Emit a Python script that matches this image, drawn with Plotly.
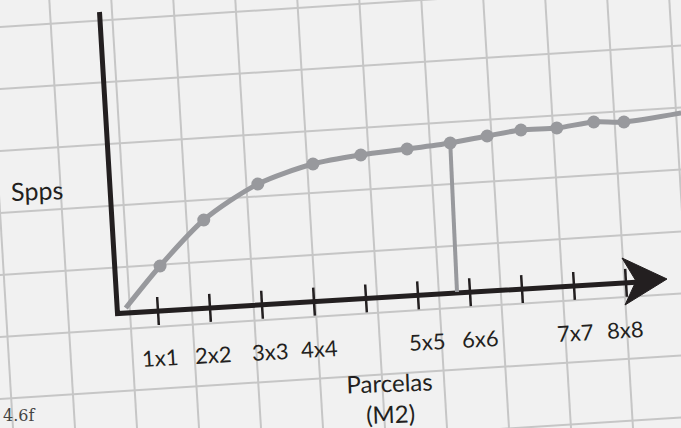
import math
import plotly.graph_objects as go

# ---------------- data ----------------
# species-area curve: x in plot-size tick units, y in species units
curve_x = [0.38, 1.04, 1.88, 2.92, 3.98, 4.90, 5.79, 6.62, 7.33, 7.98, 8.67, 9.38, 9.96, 11.06]
curve_y = [0.30, 2.40, 4.70, 6.50, 7.50, 7.95, 8.25, 8.55, 8.90, 9.20, 9.30, 9.60, 9.60, 10.05]
marker_x = [1.04, 1.88, 2.92, 3.98, 4.90, 5.79, 6.62, 7.33, 7.98, 8.67, 9.38, 9.96]
marker_y = [2.40, 4.70, 6.50, 7.50, 7.95, 8.25, 8.55, 8.90, 9.20, 9.30, 9.60, 9.60]
# drop line from the chosen point down to the axis
drop_x = [6.62, 6.75]
drop_y = [8.55, 1.10]
# x-axis ticks and labels
tick_pos = [1, 2, 3, 4, 5, 6, 7, 8, 9, 10]
label_text = ["1x1", "2x2", "3x3", "4x4", "5x5", "6x6", "7x7", "8x8"]
label_pos = [1.04, 2.06, 3.15, 4.10, 6.17, 7.19, 9.02, 9.98]
y_title = "Spps"
x_title = "Parcelas<br>(M2)"
corner_note = "4.6f"

# ---------------- layout geometry / styles ----------------
W, H = 681, 428
X0, XS = 106.0, 52.0   # px of x=0, px per x unit
Y0, YS = 314.0, 20.0   # px of y=0, px per y unit
BG = "#f1f1f1"
GRID = "#c6c6c6"
INK = "#231f20"
CURVE = "#98999d"
TILT = 3.45
tn = math.tan(math.radians(TILT))
FONT = "Lato"


def dx(px):
    return (px - X0) / XS


def dy(py):
    return (Y0 - py) / YS


def px_of(x):
    return X0 + XS * x


def axis_py(px):
    return 311.0 - tn * (px - 158.0)


shapes = []
# tilted graph-paper grid
for k in range(-1, 12):
    xt = 49 + 62 * k
    shapes.append(dict(type="line", xref="x", yref="y", layer="below",
                       x0=dx(xt), y0=dy(-5), x1=dx(xt + 0.06 * (H + 10)), y1=dy(H + 5),
                       line=dict(color=GRID, width=2)))
for k in range(-1, 9):
    yl = 27 + 62 * k
    shapes.append(dict(type="line", xref="x", yref="y", layer="below",
                       x0=dx(-5), y0=dy(yl + 0.064 * 5), x1=dx(W + 5), y1=dy(yl - 0.064 * (W + 5)),
                       line=dict(color=GRID, width=2)))

# axes (tilted, hand-drawn look)
corner = (117.5, 313.5)
ytop = (99.5, 12.0)
xend = (636.0, axis_py(636.0))
path = "M {},{} L {},{} L {},{}".format(dx(ytop[0]), dy(ytop[1]), dx(corner[0]), dy(corner[1]),
                                         dx(xend[0]), dy(xend[1]))
shapes.append(dict(type="path", xref="x", yref="y", layer="below", path=path,
                   line=dict(color=INK, width=5)))
# arrow head
arrow = [(622, 258), (667, 279), (625, 305), (636, 281)]
apath = "M " + " L ".join("{},{}".format(dx(a), dy(b)) for a, b in arrow) + " Z"
shapes.append(dict(type="path", xref="x", yref="y", layer="below", path=apath,
                   fillcolor=INK, line=dict(color=INK, width=1)))
# ticks perpendicular to the tilted axis
s, c = math.sin(math.radians(TILT)), math.cos(math.radians(TILT))
for t in tick_pos:
    cx = px_of(t)
    cy = axis_py(cx)
    shapes.append(dict(type="line", xref="x", yref="y", layer="below",
                       x0=dx(cx - 14 * s), y0=dy(cy - 14 * c),
                       x1=dx(cx + 14 * s), y1=dy(cy + 14 * c),
                       line=dict(color=INK, width=2.5)))

fig = go.Figure()
fig.add_trace(go.Scatter(x=curve_x, y=curve_y, mode="lines",
                         line=dict(color=CURVE, width=5, shape="spline", smoothing=0.8),
                         hoverinfo="skip", showlegend=False))
fig.add_trace(go.Scatter(x=drop_x, y=drop_y, mode="lines",
                         line=dict(color=CURVE, width=4), hoverinfo="skip", showlegend=False))
fig.add_trace(go.Scatter(x=marker_x, y=marker_y, mode="markers",
                         marker=dict(color=CURVE, size=13), showlegend=False))

annotations = []
for txt, lx in zip(label_text, label_pos):
    px = px_of(lx)
    annotations.append(dict(x=lx, y=dy(axis_py(px) + 47), xref="x", yref="y", text=txt,
                            showarrow=False, textangle=-TILT,
                            font=dict(family=FONT, size=22, color=INK)))
annotations.append(dict(x=dx(37), y=dy(190), xref="x", yref="y", text=y_title, showarrow=False,
                        textangle=-2, font=dict(family=FONT, size=25, color=INK)))
annotations.append(dict(x=dx(390), y=dy(398), xref="x", yref="y", text=x_title, showarrow=False,
                        textangle=-2, font=dict(family=FONT, size=24, color=INK)))
annotations.append(dict(x=0, y=1 - 404.0 / H, xref="paper", yref="paper", text=corner_note,
                        showarrow=False, xanchor="left", yanchor="top", xshift=1,
                        font=dict(family="DejaVu Serif", size=16, color="#444444")))

fig.update_layout(
    width=W, height=H,
    margin=dict(l=0, r=0, t=0, b=0),
    paper_bgcolor=BG, plot_bgcolor=BG,
    xaxis=dict(range=[dx(0), dx(W)], visible=False, fixedrange=True),
    yaxis=dict(range=[dy(H), dy(0)], visible=False, fixedrange=True),
    shapes=shapes, annotations=annotations,
    showlegend=False,
)

fig.write_html("out.html", config={"displayModeBar": False},
               post_script="document.body.style.margin='0px';document.body.style.background='%s';" % BG)
